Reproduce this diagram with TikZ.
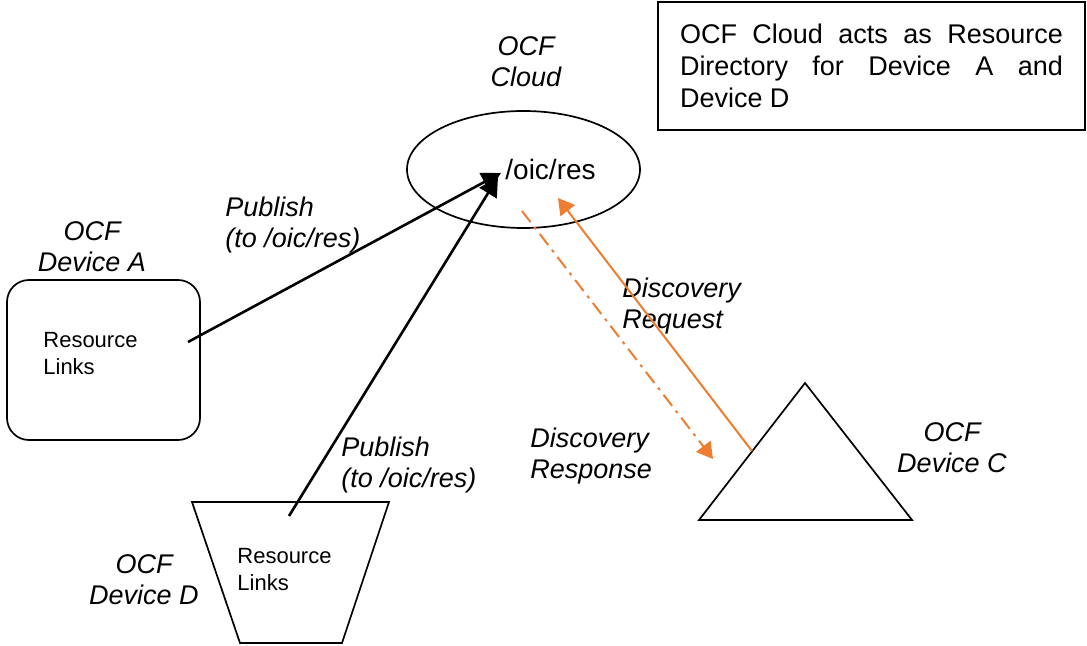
\documentclass[tikz,border=0pt]{standalone}
\usepackage{fontspec}
\setmainfont{Liberation Sans}
\usepackage{tikz}
\usetikzlibrary{arrows.meta,shapes.geometric}
\definecolor{ocforange}{HTML}{ED7D31}

\begin{document}
\begin{tikzpicture}[x=0.5pt,y=-0.5pt,>={Triangle[length=9.5pt,width=10pt]},
                    outline/.style={draw,line width=0.85pt},
                    lbl/.style={font=\itshape\fontsize{13.5}{15.5}\selectfont,inner sep=0pt},
                    links/.style={font=\fontsize{11}{13.5}\selectfont,align=left,
                                  anchor=west,inner sep=0pt},
                    pub/.style={->,line width=1.3pt},
                    req/.style={-{Triangle[length=8pt,width=9pt]},draw=ocforange,line width=1pt},
                    resp/.style={req,dash pattern=on 7pt off 3pt on 1.5pt off 3pt}]

  \useasboundingbox (0,0) rectangle (1087,646);

  \node[outline,ellipse,minimum width=116.5pt,minimum height=58.5pt] (cloud) at (523.5,169.5) {};
  \node[anchor=base west,inner sep=0pt,font=\fontsize{14}{16}\selectfont] (res) at (505,180) {/oic/res};
  \node[lbl,align=center] (cloudlbl) at (526,61.5) {OCF\\Cloud};

  \node[outline,minimum width=213.5pt,minimum height=64pt,text width=191.5pt,align=justify,
        font=\fontsize{13.5}{16}\selectfont] (note) at (871.5,66)
        {OCF Cloud acts as Resource\linebreak Directory for Device A and\linebreak Device D};

  \node[outline,rounded corners=11pt,minimum width=96.5pt,minimum height=80pt] (devA) at (103.5,360) {};
  \node[links] (linksA) at (43,354) {Resource\\Links};
  \node[lbl,align=center] (devAlbl) at (92,247) {OCF\\Device A};

  \draw[outline] (192,502) -- (389,502) -- (342,643) -- (240,643) -- cycle;
  \node[links] (linksD) at (237,570) {Resource\\Links};
  \node[lbl,align=center] (devDlbl) at (144,579.5) {OCF\\Device D};

  \draw[outline] (699,520) -- (805,383) -- (912,520) -- cycle;
  \node[lbl,align=center] (devClbl) at (952,448) {OCF\\Device C};

  \node[lbl,align=left,anchor=west] (pubAlbl) at (225,225.5) {Publish\\(to /oic/res)};
  \node[lbl,align=left,anchor=west] (pubDlbl) at (341,465.5) {Publish\\(to /oic/res)};
  \node[lbl,align=left,anchor=west] (reqlbl) at (622,306.5) {Discovery\\Request};
  \node[lbl,align=left,anchor=west] (resplbl) at (530,456.5) {Discovery\\Response};

  \coordinate (pubA) at (188,342);
  \coordinate (pubAtip) at (501,173);
  \coordinate (pubD) at (289,516);
  \coordinate (pubDtip) at (498,177);
  \coordinate (reqC) at (752,451);
  \coordinate (reqtip) at (558,198);
  \coordinate (respcloud) at (522,211);
  \coordinate (resptip) at (713,459);

  \path (pubA) edge [pub] (pubAtip)
        (pubD) edge [pub] (pubDtip)
        (reqC) edge [req] (reqtip)
        (respcloud) edge [resp] (resptip);
\end{tikzpicture}
\end{document}
